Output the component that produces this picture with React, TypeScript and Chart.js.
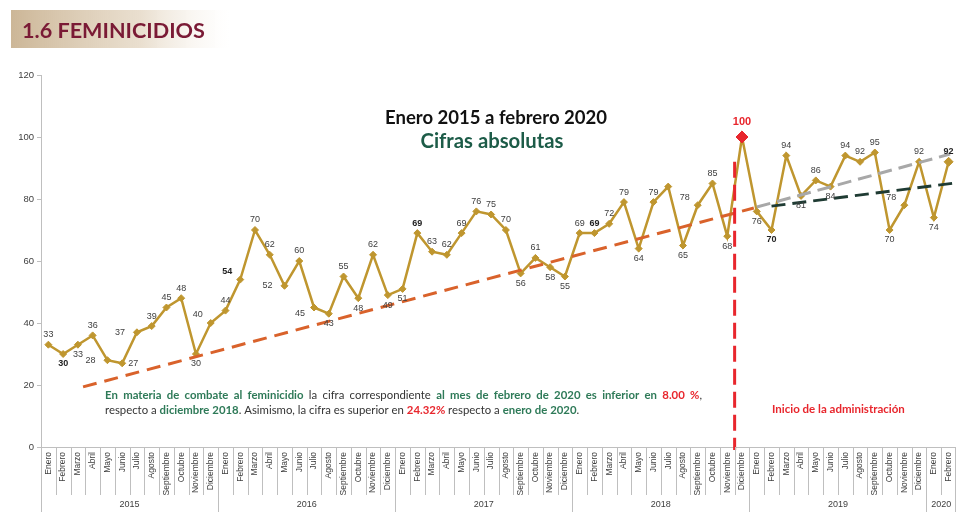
import { useEffect, useRef } from "react";
import { Chart, registerables } from "chart.js";
Chart.register(...registerables);

// ---------------- data ----------------
const monthNames = ["Enero", "Febrero", "Marzo", "Abril", "Mayo", "Junio", "Julio", "Agosto", "Septiembre", "Octubre", "Noviembre", "Diciembre"];
const yearLabels = ["2015", "2016", "2017", "2018", "2019", "2020"];
const monthsPerYear = [12, 12, 12, 12, 12, 2];

const values2015 = [33, 30, 33, 36, 28, 27, 37, 39, 45, 48, 30, 40];
const values2016 = [44, 54, 70, 62, 52, 60, 45, 43, 55, 48, 62, 49];
const values2017 = [51, 69, 63, 62, 69, 76, 75, 70, 56, 61, 58, 55];
const values2018 = [69, 69, 72, 79, 64, 79, 84, 65, 78, 85, 68, 100];
const values2019 = [76, 70, 94, 81, 86, 84, 94, 92, 95, 70, 78, 92];
const values2020 = [74, 92];

// label placement (a = above, b = below, l = left, r = right, al = above-left, bl = below-left, n = none)
const place2015 = ["a", "b", "b", "a", "l", "r", "l", "a", "a", "a", "b", "al"];
const place2016 = ["a", "al", "a", "a", "l", "a", "bl", "b", "a", "b", "a", "b"];
const place2017 = ["b", "a", "a", "a", "a", "a", "a", "a", "b", "a", "b", "b"];
const place2018 = ["a", "a", "a", "a", "b", "a", "n", "b", "al", "a", "b", "top"];
const place2019 = ["b", "b", "a", "b", "a", "b", "a", "a", "a", "b", "al", "a"];
const place2020 = ["b", "a"];

// trend lines: [month index, value]
const trendBefore = [[2.35, 19.4], [47.8, 77.1]];
const trendAfterGrey = [[48.0, 77.4], [61.1, 94.5]];
const trendAfterGreen = [[49.0, 77.7], [61.5, 85.2]];
const adminStart = [[46.5, 92], [46.5, -1]];

const peakIndex = 47; // diciembre 2018

const yTicks = [0, 20, 40, 60, 80, 100, 120];

const categories = yearLabels.flatMap((y, i) => monthNames.slice(0, monthsPerYear[i]));
const values = [...values2015, ...values2016, ...values2017, ...values2018, ...values2019, ...values2020];
const placements = [...place2015, ...place2016, ...place2017, ...place2018, ...place2019, ...place2020];

// ---------------- style ----------------
const GOLD = "#BF962F";
const RED = "#E8262D";
const ORANGE = "#D9622B";
const GREY = "#A8A8A8";
const DKGREEN = "#1F3B33";
const AXIS = "#BFBFBF";
const TXT = "#404040";
const GREENTXT = "#2E7A58";
const ARIAL = "'Liberation Sans', Arial, sans-serif";
const CAL = "Lato, 'Open Sans', sans-serif";

const line1 = [
  { t: "En materia de combate al feminicidio", s: "g" },
  { t: " la cifra correspondiente ", s: "n" },
  { t: "al mes de febrero de 2020 es inferior en ", s: "g" },
  { t: "8.00 %", s: "r" },
  { t: ",", s: "n" },
];
const line2 = [
  { t: "respecto a ", s: "n" },
  { t: "diciembre 2018", s: "g" },
  { t: ". Asimismo, la cifra es superior en ", s: "n" },
  { t: "24.32%", s: "r" },
  { t: " respecto a ", s: "n" },
  { t: "enero de 2020", s: "g" },
  { t: ".", s: "n" },
];

const runStyle: any = {
  g: { color: GREENTXT, weight: "bold" },
  n: { color: "#333333", weight: "normal" },
  r: { color: RED, weight: "bold" },
};

function toWords(runs: any[]) {
  const words: any[] = [];
  let cur: any[] = [];
  for (const run of runs) {
    const parts = run.t.split(" ");
    parts.forEach((p: string, j: number) => {
      if (j > 0 && cur.length) {
        words.push(cur);
        cur = [];
      }
      if (p) cur.push({ t: p, s: run.s });
    });
  }
  if (cur.length) words.push(cur);
  return words;
}

function wordWidth(ctx: any, word: any[], size: number) {
  let w = 0;
  for (const seg of word) {
    ctx.font = `${runStyle[seg.s].weight} ${size}px ${CAL}`;
    w += ctx.measureText(seg.t).width;
  }
  return w;
}

function drawWords(ctx: any, words: any[], x0: number, y: number, size: number, gap: number) {
  let x = x0;
  ctx.textAlign = "left";
  ctx.textBaseline = "alphabetic";
  for (const word of words) {
    for (const seg of word) {
      ctx.font = `${runStyle[seg.s].weight} ${size}px ${CAL}`;
      ctx.fillStyle = runStyle[seg.s].color;
      ctx.fillText(seg.t, x, y);
      x += ctx.measureText(seg.t).width;
    }
    x += gap;
  }
}

function fitSize(ctx: any, text: string, weight: string, family: string, target: number) {
  ctx.font = `${weight} 20px ${family}`;
  return (20 * target) / ctx.measureText(text).width;
}

const decorPlugin = {
  id: "decor",
  beforeDraw(chart: any) {
    const { ctx } = chart;
    ctx.save();
    // header band
    const g = ctx.createLinearGradient(10, 0, 230, 0);
    g.addColorStop(0, "rgba(201,178,145,0.95)");
    g.addColorStop(0.6, "rgba(225,210,188,0.7)");
    g.addColorStop(1, "rgba(245,238,228,0)");
    ctx.fillStyle = g;
    ctx.fillRect(11, 10, 220, 38);
    const ts = fitSize(ctx, "1.6 FEMINICIDIOS", "bold", CAL, 183);
    ctx.font = `bold ${ts}px ${CAL}`;
    ctx.fillStyle = "#7A1A35";
    ctx.textAlign = "left";
    ctx.textBaseline = "alphabetic";
    ctx.fillText("1.6 FEMINICIDIOS", 22, 38);

    // subtitles
    ctx.textAlign = "center";
    const s1 = fitSize(ctx, "Enero 2015 a febrero 2020", "bold", CAL, 222);
    ctx.font = `bold ${s1}px ${CAL}`;
    ctx.fillStyle = "#111111";
    ctx.fillText("Enero 2015 a febrero 2020", 496, 124);
    const s2 = fitSize(ctx, "Cifras absolutas", "bold", CAL, 143);
    ctx.font = `bold ${s2}px ${CAL}`;
    ctx.fillStyle = "#1D5C48";
    ctx.fillText("Cifras absolutas", 492, 148);
    ctx.restore();
  },
  afterDraw(chart: any) {
    const { ctx } = chart;
    const xs = chart.scales.x;
    const n = categories.length;
    const step = (xs.right - xs.left) / n;
    const axisY = chart.chartArea.bottom;
    ctx.save();
    ctx.strokeStyle = AXIS;
    ctx.lineWidth = 1;
    // month separators
    for (let i = 0; i <= n; i++) {
      const x = Math.min(Math.round(xs.left + i * step), chart.width - 1) + 0.5;
      ctx.beginPath();
      ctx.moveTo(x, axisY);
      ctx.lineTo(x, axisY + 48);
      ctx.stroke();
    }
    // year separators + labels
    ctx.fillStyle = TXT;
    ctx.font = `9px ${ARIAL}`;
    ctx.textAlign = "center";
    ctx.textBaseline = "middle";
    const bounds = [0];
    monthsPerYear.forEach((m) => bounds.push(bounds[bounds.length - 1] + m));
    bounds.forEach((b) => {
      const x = Math.min(Math.round(xs.left + b * step), chart.width - 1) + 0.5;
      ctx.beginPath();
      ctx.moveTo(x, axisY + 48);
      ctx.lineTo(x, axisY + 66);
      ctx.stroke();
    });
    yearLabels.forEach((y, i) => {
      const x0 = xs.left + bounds[i] * step;
      const x1 = xs.left + bounds[i + 1] * step;
      ctx.fillText(y, (x0 + x1) / 2, axisY + 58);
    });

    // data labels
    const meta = chart.getDatasetMeta(chart.data.datasets.length - 1);
    meta.data.forEach((pt: any, i: number) => {
      const p = placements[i];
      if (p === "n") return;
      let dx = 0;
      let dy = 0;
      if (p === "a") dy = -10;
      if (p === "b") dy = 10;
      if (p === "l") dx = -17;
      if (p === "r") dx = 11;
      if (p === "al") { dx = -13; dy = -8; }
      if (p === "bl") { dx = -14; dy = 6; }
      if (p === "top") dy = -15;
      const isPeak = i === peakIndex;
      const bold = isPeak || i % 12 === 1;
      ctx.font = `${bold ? "bold " : ""}${isPeak ? 11 : 9}px ${ARIAL}`;
      ctx.fillStyle = isPeak ? RED : bold ? "#222222" : TXT;
      ctx.textAlign = "center";
      ctx.textBaseline = "middle";
      ctx.fillText(String(values[i]), pt.x + dx, pt.y + dy);
    });

    // paragraph
    const w1 = toWords(line1);
    const w2 = toWords(line2);
    const base = 12;
    ctx.font = `normal ${base}px ${CAL}`;
    let sp = ctx.measureText(" ").width;
    const nat2 = w2.reduce((a: number, w: any) => a + wordWidth(ctx, w, base), 0) + sp * (w2.length - 1);
    const size = (base * 475) / nat2;
    ctx.font = `normal ${size}px ${CAL}`;
    sp = ctx.measureText(" ").width;
    const sum1 = w1.reduce((a: number, w: any) => a + wordWidth(ctx, w, size), 0);
    const gap1 = (702 - 105 - sum1) / (w1.length - 1);
    drawWords(ctx, w1, 105, 399, size, gap1);
    drawWords(ctx, w2, 105, 414, size, sp);

    // administration label
    const ra = fitSize(ctx, "Inicio de la administración", "bold", CAL, 133);
    ctx.font = `bold ${ra}px ${CAL}`;
    ctx.fillStyle = RED;
    ctx.textAlign = "left";
    ctx.textBaseline = "alphabetic";
    ctx.fillText("Inicio de la administración", 772, 413);
    ctx.restore();
  },
};

const toXY = (arr: number[][]) => arr.map(([x, y]) => ({ x, y }));

export default function App() {
  const ref = useRef<HTMLCanvasElement>(null);
  useEffect(() => {
    const canvas = ref.current!;
    const chart = new Chart(canvas, {
      type: "line",
      data: {
        labels: categories,
        datasets: [
          {
            data: toXY(adminStart),
            xAxisID: "x2",
            borderColor: RED,
            borderWidth: 3,
            borderDash: [16, 7],
            pointRadius: 0,
            clip: false,
          } as any,
          {
            data: toXY(trendBefore),
            xAxisID: "x2",
            borderColor: ORANGE,
            borderWidth: 3,
            borderDash: [14, 8],
            pointRadius: 0,
          },
          {
            data: toXY(trendAfterGrey),
            xAxisID: "x2",
            borderColor: GREY,
            borderWidth: 3,
            borderDash: [14, 7],
            pointRadius: 0,
          },
          {
            data: toXY(trendAfterGreen),
            xAxisID: "x2",
            borderColor: DKGREEN,
            borderWidth: 3,
            borderDash: [14, 7],
            pointRadius: 0,
          },
          {
            data: values,
            xAxisID: "x",
            borderColor: GOLD,
            borderWidth: 2.5,
            pointStyle: "rectRot",
            pointRadius: values.map((_, i) => (i === peakIndex ? 6 : i === values.length - 1 ? 4.5 : 3.5)),
            pointBackgroundColor: values.map((_, i) => (i === peakIndex ? RED : GOLD)),
            pointBorderColor: values.map((_, i) => (i === peakIndex ? RED : GOLD)),
            pointBorderWidth: 1,
          },
        ],
      },
      options: {
        animation: false,
        responsive: false,
        events: [],
        layout: { autoPadding: false, padding: { top: 75, left: 0, right: 0, bottom: 0 } },
        plugins: { legend: { display: false }, tooltip: { enabled: false } },
        scales: {
          x: {
            type: "category",
            offset: true,
            grid: { display: false, drawTicks: false },
            border: { display: true, color: AXIS, width: 1 },
            ticks: {
              autoSkip: false,
              minRotation: 90,
              maxRotation: 90,
              padding: 5,
              color: TXT,
              font: { size: 8.5, family: ARIAL },
            },
            afterFit: (s: any) => {
              s.height = 65;
              s.paddingLeft = 0;
              s.paddingRight = 0;
            },
          },
          x2: {
            type: "linear",
            display: false,
            min: -0.5,
            max: 61.5,
          },
          y: {
            min: 0,
            max: 120,
            afterBuildTicks: (s: any) => {
              s.ticks = yTicks.map((v) => ({ value: v }));
            },
            grid: { drawOnChartArea: false, drawTicks: true, tickLength: 4, color: AXIS },
            border: { display: true, color: AXIS, width: 1 },
            ticks: { color: TXT, padding: 3, font: { size: 9.5, family: ARIAL } },
            afterFit: (s: any) => {
              s.width = 41;
              s.paddingTop = 0;
              s.paddingBottom = 0;
            },
          },
        },
      },
      plugins: [decorPlugin],
    });
    return () => chart.destroy();
  }, []);
  return (
    <div style={{ position: "absolute", left: 0, top: 0, width: 956, height: 512, background: "#ffffff" }}>
      <canvas ref={ref} width={956} height={512} style={{ display: "block" }} />
    </div>
  );
}
